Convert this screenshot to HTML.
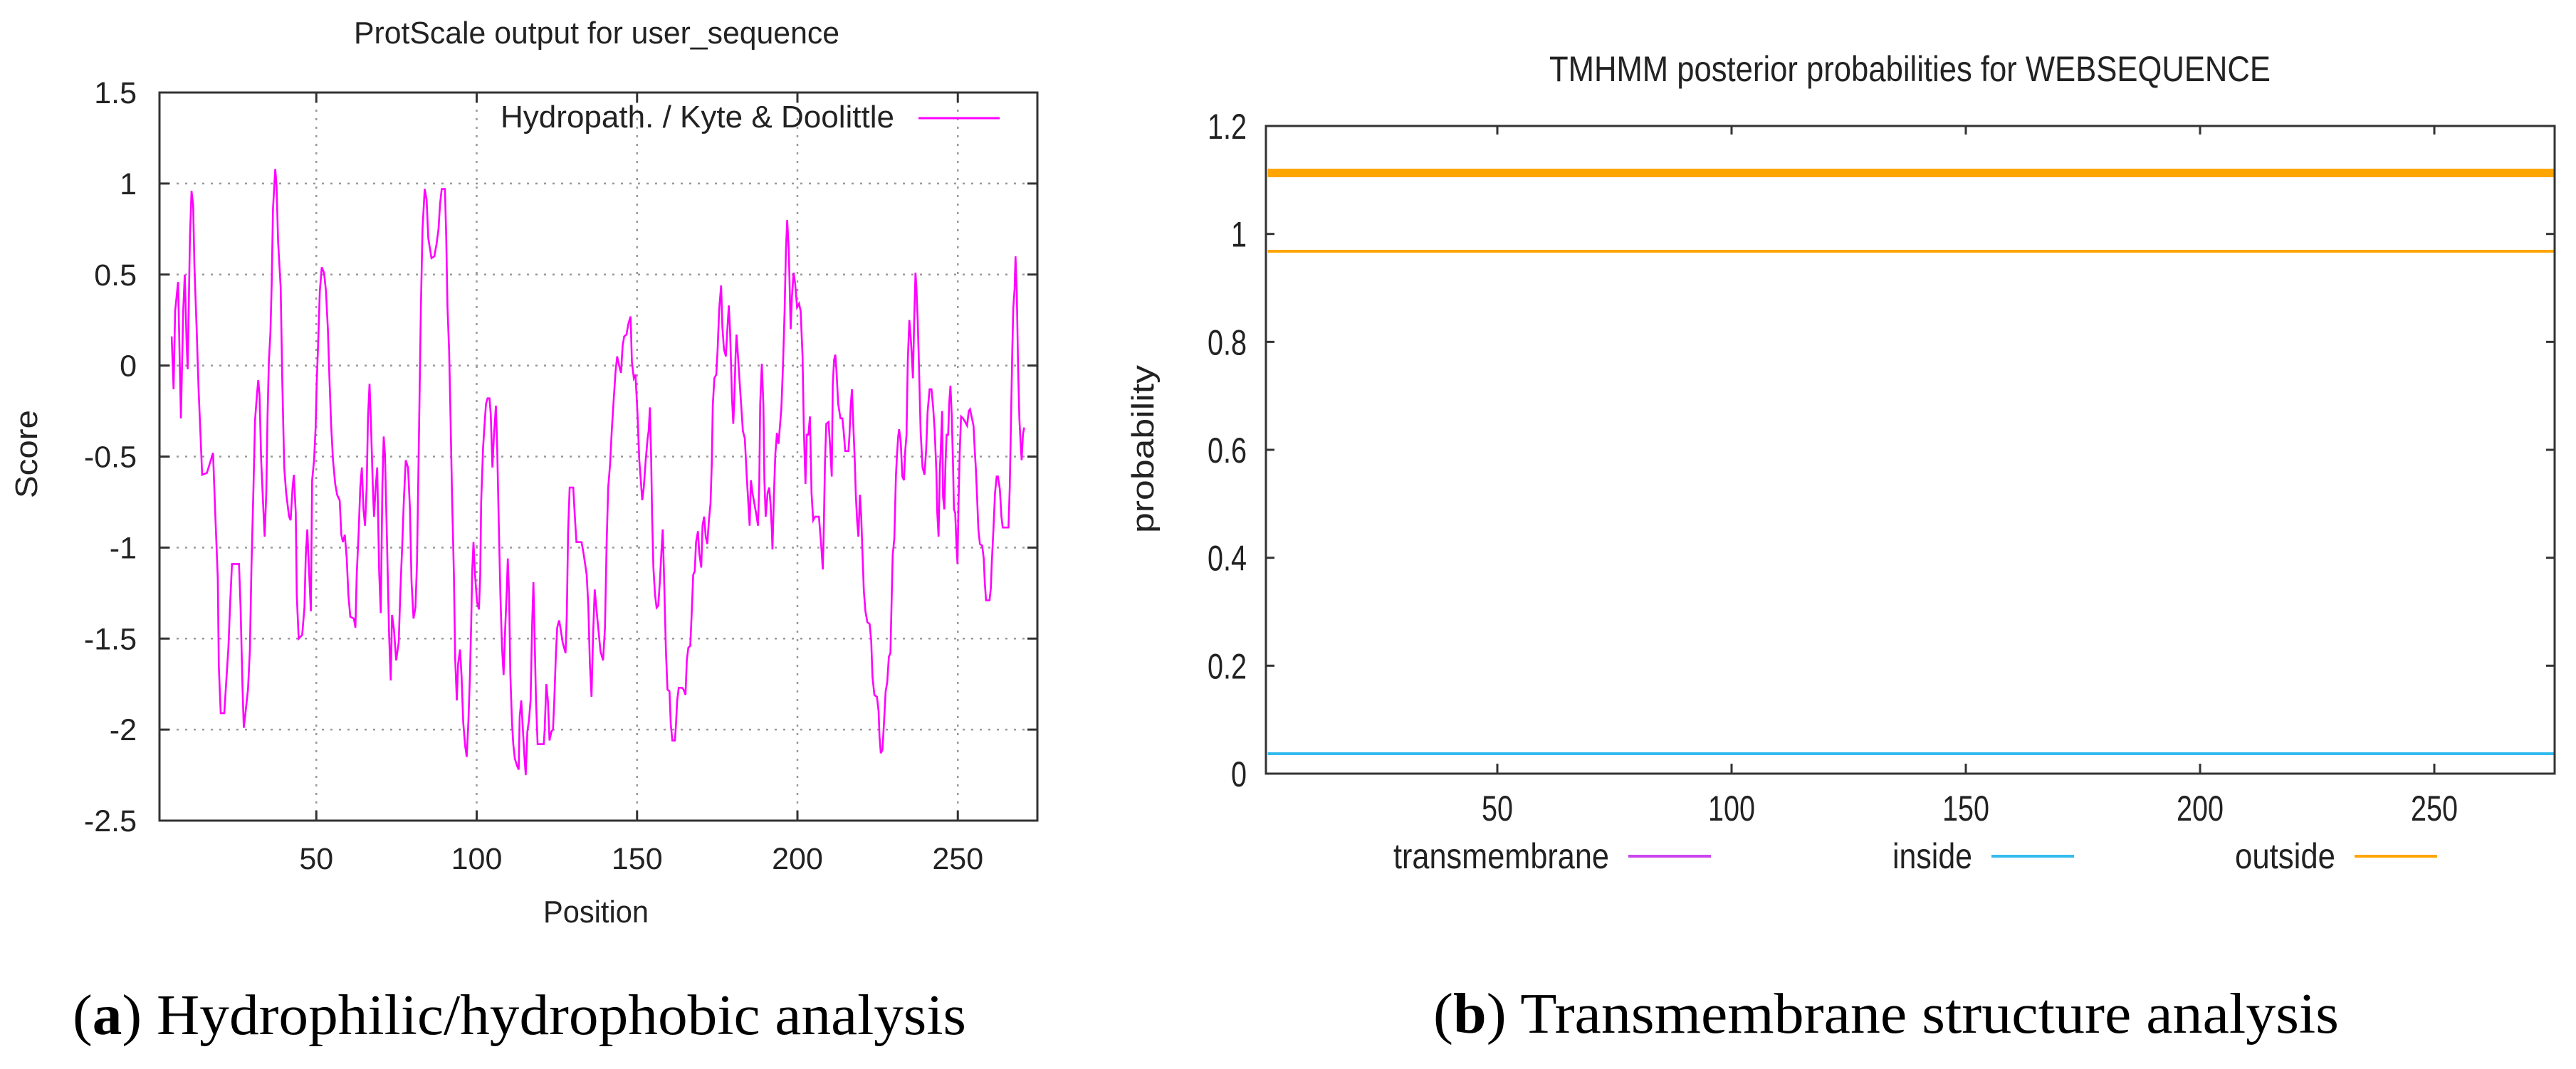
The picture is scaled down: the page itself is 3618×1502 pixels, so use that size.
<!DOCTYPE html>
<html><head><meta charset="utf-8"><style>
html,body{margin:0;padding:0;background:#fff;}
svg{display:block;}
</style></head><body>
<svg id="fig" width="3618" height="1502" viewBox="0 0 3618 1502" xmlns="http://www.w3.org/2000/svg">
<rect x="0" y="0" width="3618" height="1502" fill="#fff"/>
<g id="left"></g>
<g id="right"></g>
<text x="102" y="1453" font-family="'Liberation Serif', serif" font-size="80" textLength="1255" lengthAdjust="spacingAndGlyphs">(<tspan font-weight="bold">a</tspan>) Hydrophilic/hydrophobic analysis</text>
<text x="2013" y="1451" font-family="'Liberation Serif', serif" font-size="80" textLength="1272" lengthAdjust="spacingAndGlyphs">(<tspan font-weight="bold">b</tspan>) Transmembrane structure analysis</text>
</svg>
<script>
// ---------- Left chart data ----------
const hydroXTicks = [50, 100, 150, 200, 250];
const hydroYTicks = [1.5, 1, 0.5, 0, -0.5, -1, -1.5, -2, -2.5];
const hydroYTickLabels = ["1.5", "1", "0.5", "0", "-0.5", "-1", "-1.5", "-2", "-2.5"];
const hydroPositions = [4.9,5.2,5.5,6,6.9,7.8,8.5,9,9.6,9.9,10.6,11.1,11.6,12,12.7,13.3,13.9,14.4,15.9,17.8,18.5,19.3,19.6,20.2,21.3,21.9,22.6,23.1,23.7,25.9,26.4,27,27.4,27.9,28.7,29.3,29.8,30.4,30.9,31.5,31.9,32.3,32.8,33.5,33.9,34.4,34.8,35.2,35.7,36.1,36.5,37.2,37.6,38.1,38.9,39.4,40,40.6,41.5,42,42.6,43,43.6,43.9,44.5,45.6,46.3,46.7,47.2,47.8,48.3,48.7,49.3,49.8,50.1,50.6,51.1,51.7,52.4,53,53.6,54.1,54.6,55.2,55.9,56.5,57.3,57.8,58.3,58.9,59.5,60,60.6,61.7,62.2,62.6,63.2,63.7,64.2,64.7,65.2,65.7,66.1,66.6,67,67.6,68,68.5,69,69.6,70.1,70.6,71,71.4,72.1,72.7,73.2,73.6,74.2,74.9,75.7,76.2,76.8,77.3,77.9,78.6,79.2,79.7,80.3,80.9,81.4,81.8,82.2,82.6,83.1,83.8,84.4,84.9,85.9,86.8,87.5,88.1,88.6,89.1,90.1,90.5,90.9,91.4,91.8,92.3,92.9,93.3,93.8,94.2,94.8,95.3,95.8,96.4,96.9,97.4,97.9,98.3,98.6,99,99.5,100.1,100.7,101.1,101.4,102,102.5,102.9,103.4,104,104.4,104.9,105.4,106,106.4,106.9,107.4,107.9,108.4,108.9,109.4,109.7,110.1,110.5,111,111.4,111.9,112.6,113.1,113.4,113.9,114.4,114.9,115.3,115.8,116.3,116.8,117.3,117.7,118,118.5,119,120.9,121.2,121.7,122.2,122.7,123.3,123.8,124.2,124.7,125.1,125.7,126.2,126.8,127.7,128.1,128.5,129,130.1,130.6,131.1,132.7,133.3,133.8,134.3,134.8,135.3,135.8,136.3,136.8,137.3,137.9,138.6,139.4,140,140.5,141,141.6,142.1,142.7,143.3,143.8,144.4,145,145.5,146,146.7,147.3,148,148.4,149,149.5,150.1,150.7,151.2,151.6,152.1,152.7,153.3,153.6,154,154.4,154.7,155.1,155.6,156.1,156.6,157.1,157.6,158,158.4,159,159.5,160.1,160.5,161,161.8,162.1,162.5,163,164,164.5,165.1,165.5,166,166.6,167,167.5,168,168.4,169,169.4,170,170.4,170.9,171.4,171.9,172.4,172.9,173.3,173.6,174.1,174.7,175.1,175.6,176.2,176.6,177.1,177.7,178.1,178.6,179,179.6,180,180.3,180.7,181,181.4,181.9,182.4,183,183.6,184.2,184.7,185.1,185.5,186,186.6,187.2,187.7,188.1,188.4,188.9,189.4,189.7,190.1,190.7,191.2,191.6,192,192.2,192.7,193.1,193.6,194.1,194.6,195,195.5,196,196.4,196.8,197.3,197.9,198.3,198.8,199.3,199.9,200.5,201,201.6,202,202.5,202.9,203.4,203.9,204.4,204.9,205.5,206.7,207.5,207.9,208.2,208.6,209,209.7,210.2,210.7,211,211.4,211.8,212.2,212.7,213.4,214,214.4,214.9,215.9,216.2,216.6,217,217.3,217.9,218.2,218.6,219,219.5,219.9,220.3,220.7,221.2,221.8,222.5,223,223.4,224,224.8,225.3,225.6,226,226.5,227,227.5,228,228.5,229,229.3,229.7,230.2,230.7,231,231.4,231.7,232.2,232.7,233.2,233.6,234,234.4,234.9,235.3,235.6,236,236.4,236.8,237.1,237.5,237.9,238.4,239,239.6,240.1,240.6,241.2,241.8,242.3,242.8,243.3,243.6,244,244.4,244.7,245.1,245.4,245.8,246.2,246.5,247,247.3,247.7,248.1,248.5,248.8,249.2,249.6,249.9,250.2,250.6,251,251.6,252.3,252.9,253.4,253.8,254.4,254.9,255.3,255.6,256,256.4,256.9,257.6,258.1,258.4,258.8,259.9,260.3,260.6,261.1,261.6,262.1,262.5,263.1,263.6,264,265.8,266.2,266.6,267,267.3,267.7,268,268.4,268.8,269.2,269.6,269.9,270.3,270.7];
const hydroScores = [0.16,0.02,-0.13,0.3,0.46,-0.29,0.3,0.5,0.11,-0.02,0.71,0.96,0.88,0.54,0.2,-0.13,-0.38,-0.6,-0.59,-0.48,-0.81,-1.17,-1.65,-1.91,-1.91,-1.74,-1.55,-1.32,-1.09,-1.09,-1.33,-1.77,-1.99,-1.91,-1.78,-1.56,-1.1,-0.67,-0.3,-0.16,-0.08,-0.16,-0.52,-0.79,-0.94,-0.7,-0.27,0.02,0.18,0.45,0.86,1.08,0.99,0.68,0.43,-0.09,-0.56,-0.7,-0.83,-0.85,-0.67,-0.6,-0.81,-1.26,-1.5,-1.48,-1.33,-1.05,-0.9,-1.15,-1.35,-0.63,-0.52,-0.34,-0.11,0.14,0.41,0.54,0.51,0.41,0.2,-0.07,-0.32,-0.52,-0.65,-0.71,-0.74,-0.93,-0.97,-0.93,-1.06,-1.26,-1.38,-1.39,-1.44,-1.15,-0.92,-0.67,-0.56,-0.79,-0.88,-0.67,-0.29,-0.1,-0.29,-0.65,-0.83,-0.67,-0.56,-1.13,-1.36,-0.65,-0.39,-0.49,-1.01,-1.48,-1.73,-1.37,-1.45,-1.62,-1.52,-1.24,-0.98,-0.74,-0.52,-0.56,-0.79,-1.19,-1.39,-1.33,-1.08,-0.62,-0.16,0.31,0.75,0.97,0.91,0.7,0.59,0.6,0.67,0.75,0.89,0.97,0.97,0.71,0.32,0.08,-0.25,-0.7,-1.15,-1.61,-1.84,-1.64,-1.56,-1.71,-1.96,-2.09,-2.15,-1.96,-1.71,-1.42,-1.13,-0.97,-1.15,-1.3,-1.34,-1.15,-0.75,-0.45,-0.31,-0.21,-0.18,-0.18,-0.27,-0.56,-0.38,-0.22,-0.45,-0.88,-1.26,-1.55,-1.7,-1.44,-1.23,-1.06,-1.26,-1.7,-1.96,-2.08,-2.16,-2.2,-2.22,-1.93,-1.84,-2,-2.15,-2.25,-2.01,-1.95,-1.84,-1.42,-1.19,-1.44,-1.84,-2.08,-2.08,-2,-1.75,-1.84,-2.06,-2.01,-2,-1.84,-1.58,-1.44,-1.4,-1.45,-1.52,-1.58,-1.37,-0.91,-0.67,-0.67,-0.83,-0.97,-0.97,-1.03,-1.09,-1.15,-1.32,-1.64,-1.82,-1.48,-1.23,-1.33,-1.44,-1.57,-1.62,-1.44,-0.98,-0.67,-0.54,-0.36,-0.19,-0.03,0.05,0,-0.04,0.11,0.16,0.17,0.23,0.27,0.02,-0.07,-0.05,-0.25,-0.52,-0.64,-0.74,-0.67,-0.52,-0.4,-0.36,-0.23,-0.52,-0.83,-1.11,-1.26,-1.33,-1.32,-1.19,-1.02,-0.9,-1.15,-1.57,-1.78,-1.79,-1.97,-2.06,-2.06,-1.98,-1.84,-1.77,-1.77,-1.78,-1.81,-1.62,-1.55,-1.54,-1.38,-1.15,-1.13,-0.97,-0.91,-1.03,-1.11,-0.88,-0.83,-0.94,-0.98,-0.85,-0.76,-0.54,-0.22,-0.07,-0.05,0.08,0.31,0.44,0.21,0.09,0.05,0.18,0.33,0.19,-0.18,-0.32,-0.19,0.05,0.17,0.07,-0.07,-0.2,-0.36,-0.4,-0.61,-0.76,-0.88,-0.63,-0.7,-0.76,-0.82,-0.88,-0.65,-0.21,0.01,-0.22,-0.63,-0.83,-0.7,-0.67,-0.76,-0.9,-1.01,-0.7,-0.49,-0.37,-0.43,-0.32,-0.23,0,0.3,0.63,0.8,0.64,0.2,0.38,0.51,0.45,0.32,0.34,0.3,0.05,-0.35,-0.65,-0.38,-0.38,-0.28,-0.7,-0.85,-0.83,-0.83,-1.01,-1.12,-0.92,-0.53,-0.32,-0.31,-0.45,-0.61,-0.11,0.03,0.06,-0.04,-0.21,-0.29,-0.29,-0.36,-0.47,-0.47,-0.39,-0.22,-0.13,-0.27,-0.53,-0.71,-0.85,-0.94,-0.71,-0.83,-1.05,-1.24,-1.35,-1.41,-1.42,-1.51,-1.71,-1.81,-1.82,-1.9,-2.04,-2.13,-2.11,-1.96,-1.79,-1.74,-1.6,-1.58,-1.34,-1.04,-0.95,-0.61,-0.5,-0.39,-0.35,-0.42,-0.61,-0.63,-0.47,-0.38,0.03,0.25,0.16,0.07,-0.07,0.25,0.51,0.43,0.25,0,-0.36,-0.56,-0.6,-0.47,-0.25,-0.13,-0.13,-0.23,-0.36,-0.58,-0.81,-0.94,-0.58,-0.45,-0.25,-0.72,-0.79,-0.52,-0.38,-0.38,-0.21,-0.11,-0.27,-0.54,-0.79,-0.81,-0.99,-1.09,-0.76,-0.47,-0.28,-0.29,-0.31,-0.33,-0.25,-0.24,-0.29,-0.33,-0.47,-0.56,-0.72,-0.9,-0.98,-0.99,-1.06,-1.19,-1.29,-1.29,-1.22,-1.08,-0.9,-0.7,-0.61,-0.61,-0.68,-0.83,-0.89,-0.89,-0.67,-0.29,0.09,0.32,0.42,0.6,0.4,-0.01,-0.29,-0.43,-0.52,-0.38,-0.34];

// ---------- Right chart data ----------
const tmXTicks = [50, 100, 150, 200, 250];
const tmYTicks = [0, 0.2, 0.4, 0.6, 0.8, 1, 1.2];
const tmYTickLabels = ["0", "0.2", "0.4", "0.6", "0.8", "1", "1.2"];
const tmDomain = [1, 275];
const tmSeriesNames = ["topology-band", "outside", "inside"];
const tmSeriesValues = [1.113, 0.968, 0.037];
const tmSeriesColors = ["#ffa500", "#ffa500", "#33bbee"];
const tmSeriesWidths = [12, 4, 4];
const tmLegendNames = ["transmembrane", "inside", "outside"];
const tmLegendColors = ["#cc44ee", "#33bbee", "#ffa500"];

const NS = "http://www.w3.org/2000/svg";
function mk(tag, attrs, parent, txt) {
  const e = document.createElementNS(NS, tag);
  for (const k in attrs) e.setAttribute(k, attrs[k]);
  if (txt !== undefined) e.textContent = txt;
  parent.appendChild(e);
  return e;
}

// ---------- Left chart ----------
(function () {
  const g = document.getElementById('left');
  const L = 224, R = 1457, T = 130, B = 1153;
  const xS = p => 219 + 4.505 * p;
  const yS = v => T + (1.5 - v) * 255.75;
  const font = "'Liberation Sans', 'DejaVu Sans', sans-serif";

  // grid
  hydroYTicks.forEach(v => {
    if (v === 1.5 || v === -2.5) return;
    const ln = mk('line', {x1: L, x2: R, y1: yS(v), y2: yS(v), stroke: '#999', 'stroke-width': 2.5, 'stroke-dasharray': '3 9'}, g);
    
    
  });
  hydroXTicks.forEach(p => {
    const ln = mk('line', {x1: xS(p), x2: xS(p), y1: T, y2: B, stroke: '#999', 'stroke-width': 2.5, 'stroke-dasharray': '3 9'}, g);
    
    
  });

  // curve
  let pts = hydroPositions.map((p, i) => xS(p).toFixed(1) + ',' + yS(hydroScores[i]).toFixed(1)).join(' ');
  const pl = mk('polyline', {points: pts, fill: 'none', stroke: '#ff00ff', 'stroke-width': 2.6, 'stroke-linejoin': 'miter'}, g);
  
  

  // frame
  const fr = mk('rect', {x: L, y: T, width: R - L, height: B - T, fill: 'none', stroke: '#333', 'stroke-width': 3}, g);
  
  

  // ticks + labels
  hydroYTicks.forEach((v, i) => {
    mk('line', {x1: L, x2: L + 14, y1: yS(v), y2: yS(v), stroke: '#333', 'stroke-width': 3}, g);
    mk('line', {x1: R - 14, x2: R, y1: yS(v), y2: yS(v), stroke: '#333', 'stroke-width': 3}, g);
    const t = mk('text', {x: 192, y: yS(v) + 15, 'text-anchor': 'end', 'font-family': font, 'font-size': 43, fill: '#222'}, g, hydroYTickLabels[i]);
    
    
  });
  hydroXTicks.forEach(p => {
    mk('line', {x1: xS(p), x2: xS(p), y1: B - 14, y2: B, stroke: '#333', 'stroke-width': 3}, g);
    mk('line', {x1: xS(p), x2: xS(p), y1: T, y2: T + 14, stroke: '#333', 'stroke-width': 3}, g);
    const t = mk('text', {x: xS(p), y: 1221, 'text-anchor': 'middle', 'font-family': font, 'font-size': 43, fill: '#222'}, g, String(p));
    
    
  });

  let t = mk('text', {x: 497, y: 61, 'font-family': font, 'font-size': 44, fill: '#222', textLength: 682, lengthAdjust: 'spacingAndGlyphs'}, g, 'ProtScale output for user_sequence');
  
  
  t = mk('text', {x: 703, y: 179, 'font-family': font, 'font-size': 44, fill: '#222', textLength: 553, lengthAdjust: 'spacingAndGlyphs'}, g, 'Hydropath. / Kyte & Doolittle');
  
  
  const ll = mk('line', {x1: 1290, x2: 1404, y1: 166, y2: 166, stroke: '#ff00ff', 'stroke-width': 3}, g);
  
  
  t = mk('text', {x: 837, y: 1296, 'text-anchor': 'middle', 'font-family': font, 'font-size': 44, fill: '#222', textLength: 148, lengthAdjust: 'spacingAndGlyphs'}, g, 'Position');
  
  
  t = mk('text', {x: 0, y: 0, 'text-anchor': 'middle', 'font-family': font, 'font-size': 44, fill: '#222', textLength: 124, lengthAdjust: 'spacingAndGlyphs', transform: 'translate(52,638) rotate(-90)'}, g, 'Score');
  
  
})();

// ---------- Right chart ----------
(function () {
  const g = document.getElementById('right');
  const L = 1778, R = 3588, T = 177, B = 1087;
  const xS = p => 1774 + 6.58 * p;
  const yS = v => B - v * 758.3;
  const font = "'Liberation Sans', 'DejaVu Sans', sans-serif";
  const tl = s => { let w = 0; for (const c of s) w += (c === '.') ? 11 : 22; return w; };

  tmSeriesValues.forEach((v, i) => {
    const ln = mk('line', {x1: xS(tmDomain[0]) < L ? L : xS(tmDomain[0]), x2: Math.min(R, xS(tmDomain[1]) + 6), y1: yS(v), y2: yS(v), stroke: tmSeriesColors[i], 'stroke-width': tmSeriesWidths[i]}, g);
    
    
  });

  const fr = mk('rect', {x: L, y: T, width: R - L, height: B - T, fill: 'none', stroke: '#333', 'stroke-width': 3}, g);
  
  

  tmYTicks.forEach((v, i) => {
    mk('line', {x1: L, x2: L + 12, y1: yS(v), y2: yS(v), stroke: '#333', 'stroke-width': 3}, g);
    mk('line', {x1: R - 12, x2: R, y1: yS(v), y2: yS(v), stroke: '#333', 'stroke-width': 3}, g);
    const s = tmYTickLabels[i];
    const t = mk('text', {x: 1751, y: yS(v) + 18, 'text-anchor': 'end', 'font-family': font, 'font-size': 50, fill: '#222', textLength: tl(s), lengthAdjust: 'spacingAndGlyphs'}, g, s);
    
    
  });
  tmXTicks.forEach(p => {
    mk('line', {x1: xS(p), x2: xS(p), y1: B - 14, y2: B, stroke: '#333', 'stroke-width': 3}, g);
    mk('line', {x1: xS(p), x2: xS(p), y1: T, y2: T + 12, stroke: '#333', 'stroke-width': 3}, g);
    const s = String(p);
    const t = mk('text', {x: xS(p), y: 1153, 'text-anchor': 'middle', 'font-family': font, 'font-size': 50, fill: '#222', textLength: tl(s), lengthAdjust: 'spacingAndGlyphs'}, g, s);
    
    
  });

  let t = mk('text', {x: 2176, y: 114, 'font-family': font, 'font-size': 50, fill: '#222', textLength: 1013, lengthAdjust: 'spacingAndGlyphs'}, g, 'TMHMM posterior probabilities for WEBSEQUENCE');
  
  
  t = mk('text', {x: 0, y: 0, 'text-anchor': 'middle', 'font-family': font, 'font-size': 44, fill: '#222', textLength: 236, lengthAdjust: 'spacingAndGlyphs', transform: 'translate(1620,631) rotate(-90)'}, g, 'probability');
  
  

  const legTextX = [1957, 2658, 3139];
  const legTextW = [303, 112, 141];
  const legLineX = [2287, 2797, 3307];
  tmLegendNames.forEach((n, i) => {
    const tx = mk('text', {x: legTextX[i], y: 1220, 'font-family': font, 'font-size': 50, fill: '#222', textLength: legTextW[i], lengthAdjust: 'spacingAndGlyphs'}, g, n);
    
    
    const ln = mk('line', {x1: legLineX[i], x2: legLineX[i] + 116, y1: 1203, y2: 1203, stroke: tmLegendColors[i], 'stroke-width': 4}, g);
    
    
  });
})();
</script>
</body></html>
